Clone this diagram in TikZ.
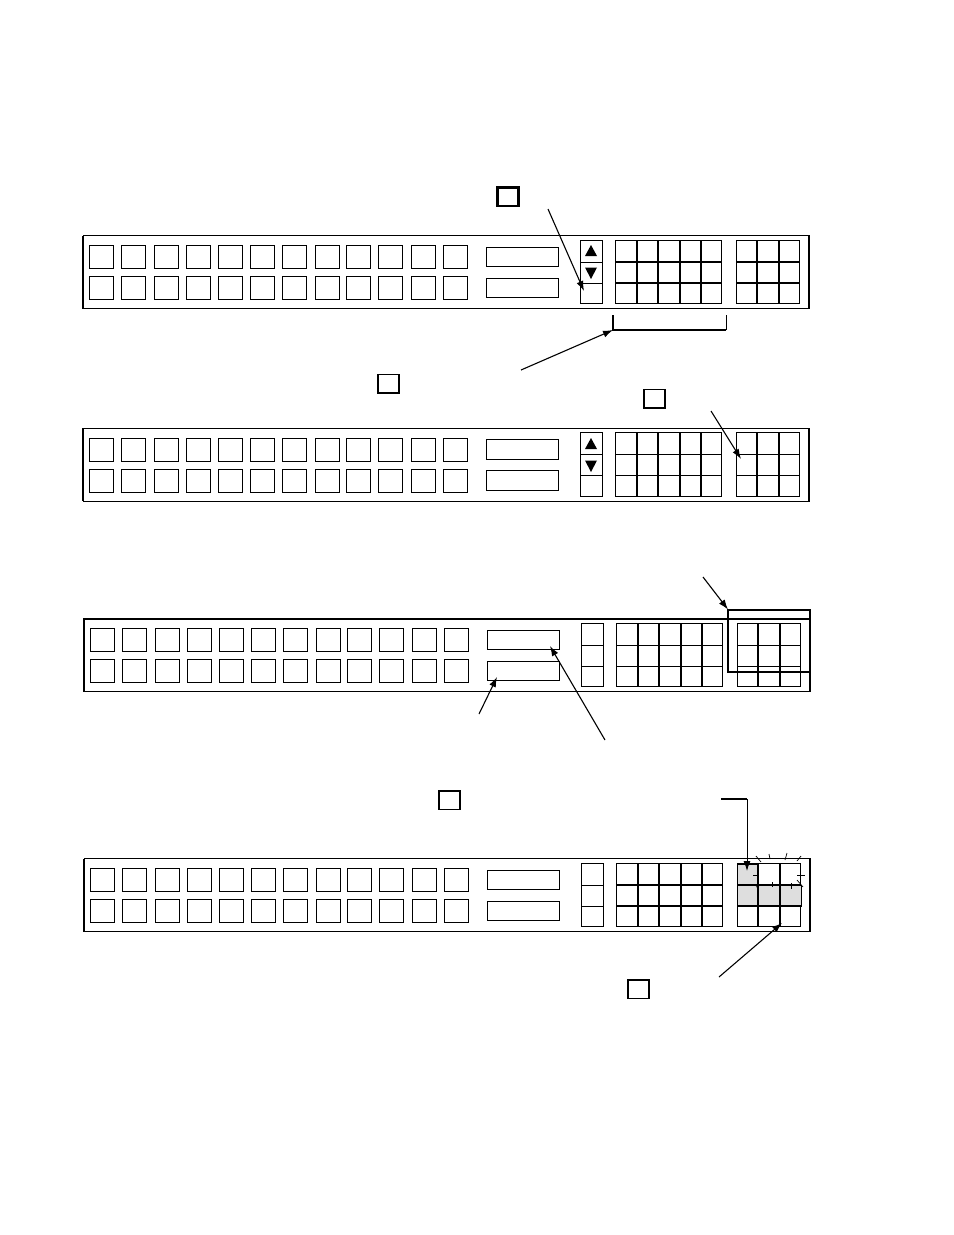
\documentclass[tikz,border=0pt]{standalone}
\usetikzlibrary{arrows.meta}
\tikzset{
  px/.style={x=1bp,y=-1bp},
  frame/.style={draw=black,line width=.9bp,anchor=north west,inner sep=0,outer sep=0,minimum width=726bp,minimum height=72.8bp},
  key/.style={draw=black,line width=.8bp,anchor=north west,inner sep=0,outer sep=0,minimum width=24bp,minimum height=23bp},
  readout/.style={draw=black,line width=.8bp,anchor=north west,inner sep=0,outer sep=0,minimum width=72bp,minimum height=19.5bp},
  cell/.style={draw=black,line width=.8bp,anchor=north west,inner sep=0,outer sep=0,minimum height=21bp},
  gridline/.style={black,line width=1.3bp},
  tag/.style={draw=black,line width=1.5bp,anchor=north west,inner sep=0,outer sep=0,minimum width=21bp,minimum height=18.5bp},
  tagbold/.style={tag,line width=2.1bp},
  pointer/.style={black,line width=1.1bp,-{Latex[length=10bp,width=7bp]}},
  heavy/.style={black,line width=1.5bp},
  outline/.style={black,line width=2bp},
  ray/.style={black,line width=.7bp}
}
\newcommand{\drawpanel}[3]{%
\begin{scope}[shift={(#2,#3)},name prefix=#1-]
  \node[frame] (frame) at (83,235.7) {};
  \foreach \x [count=\i] in {89,121,154,186,218,250,282,315,346,378,411,443}{
    \node[key] (t\i) at (\x,245.3) {};
    \node[key] (b\i) at (\x,276.5) {};
  }
  \node[readout] (r1) at (486,247) {};
  \node[readout] (r2) at (486,278) {};
  \foreach \y/\h [count=\j] in {240/22,262/21,283/20.5}{
    \node[cell,minimum width=22bp,minimum height=\h bp] (s\j) at (580,\y) {};
    \foreach \x/\w [count=\i] in {615/22,637/21,658/22,680/21,701/20.5,736/21,757/22,779/20.5}{
      \node[cell,minimum width=\w bp,minimum height=\h bp] (g\j\i) at (\x,\y) {};
    }
  }
  \foreach \y in {262,283}{
    \draw[gridline] (615,\y) -- (721.5,\y);
    \draw[gridline] (736,\y) -- (799.5,\y);
  }
  \foreach \x in {637,658,680,701,757,779}{
    \draw[gridline] (\x,240) -- (\x,303.5);
  }
\end{scope}}
\begin{document}
\begin{tikzpicture}[px]
\useasboundingbox (0,0) rectangle (954,1235);
\fill[white] (0,0) rectangle (954,1235);

\drawpanel{p1}{0}{0}
\drawpanel{p2}{0}{192.7}
\drawpanel{p3}{1}{383.2}
\drawpanel{p4}{1}{623}

% heavier frame edges
\draw[heavy] (p1-frame.north west) -- (p1-frame.south west);
\draw[heavy] (p1-frame.north east) -- (p1-frame.south east);
\draw[heavy] (p2-frame.north west) -- (p2-frame.south west);
\draw[heavy] (p2-frame.north east) -- (p2-frame.south east);
\draw[heavy] (p3-frame.north west) rectangle (p3-frame.south east);
\draw[heavy] (p4-frame.north east) -- (p4-frame.south east);
\draw[heavy] (p4-frame.north west) -- (p4-frame.south west);

% arrows on keypads of panels one and two
\fill[black] (585,256) -- (597,256) -- (591,245) -- cycle;
\fill[black] (585,267.5) -- (597,267.5) -- (591,279) -- cycle;
\fill[black] (585,449) -- (597,449) -- (591,438) -- cycle;
\fill[black] (585,460.5) -- (597,460.5) -- (591,472) -- cycle;

% highlighted cells of panel four
\fill[black!13] (737,864) rectangle (758,885);
\fill[black!13] (737,885) rectangle (801,906);
\draw[line width=.8bp] (737,864) rectangle (758,885);
\draw[line width=.8bp] (737,885) rectangle (801,906);
\draw[gridline] (737,885) -- (801,885);
\draw[gridline] (737,906) -- (801,906);
\draw[gridline] (758,863) -- (758,927);
\draw[gridline] (780,863) -- (780,927);

% flashing rays
\foreach \a/\b/\c/\d in {756/856/761/862,769/854/770/859,787/853/785/860,801/856/797/861,797/875/805/875,797/880/803/887,791/883/791/889,772/882/772/887,756/887/761/885,753/875/759/875}{
  \draw[ray] (\a,\b) -- (\c,\d);
}

% small tags
\node[tagbold] (tagA) at (497.5,187.5) {};
\node[tag] (tagB) at (378,374.5) {};
\node[tag] (tagC) at (644,389.5) {};
\node[tag] (tagD) at (439,791) {};
\node[tag] (tagE) at (628,980) {};

% bracket
\coordinate (brL) at (613,315);
\coordinate (brA) at (613,330);
\coordinate (brB) at (726,330);
\coordinate (brR) at (726,315);
\draw[heavy] (brL) -- (brA) -- (brB);
\draw[black,line width=.9bp] (brB) -- (brR);

% selection outline in panel three
\coordinate (selA) at (728,671.5);
\coordinate (selB) at (728,609.5);
\coordinate (selC) at (810,609.5);
\coordinate (selD) at (810,671.5);
\draw[outline,line cap=rect] (selD) -- (selA) -- (selB) -- (selC) -- (selD);

% pointers
\coordinate (a1) at (548,209);  \coordinate (a1e) at (584,291);
\coordinate (a2) at (521,370);
\coordinate (a3) at (711,411);  \coordinate (a3e) at (741,459);
\coordinate (a4) at (703,577);
\coordinate (a5) at (479,714);  \coordinate (a5e) at (497,677);
\coordinate (a6) at (605,740);  \coordinate (a6e) at (550,646);
\coordinate (a7) at (721,799);  \coordinate (a7k) at (747,799); \coordinate (a7e) at (747,871);
\coordinate (a8) at (719,977);  \coordinate (a8e) at (782,923);
\draw[pointer] (a1) -- (a1e);
\draw[pointer] (a2) -- (brA);
\draw[pointer] (a3) -- (a3e);
\draw[pointer] (a4) -- (selB);
\draw[pointer] (a5) -- (a5e);
\draw[pointer] (a6) -- (a6e);
\draw[heavy] (a7) -- (a7k);
\draw[pointer,line width=.9bp] (a7k) -- (a7e);
\draw[pointer] (a8) -- (a8e);
\end{tikzpicture}
\end{document}
